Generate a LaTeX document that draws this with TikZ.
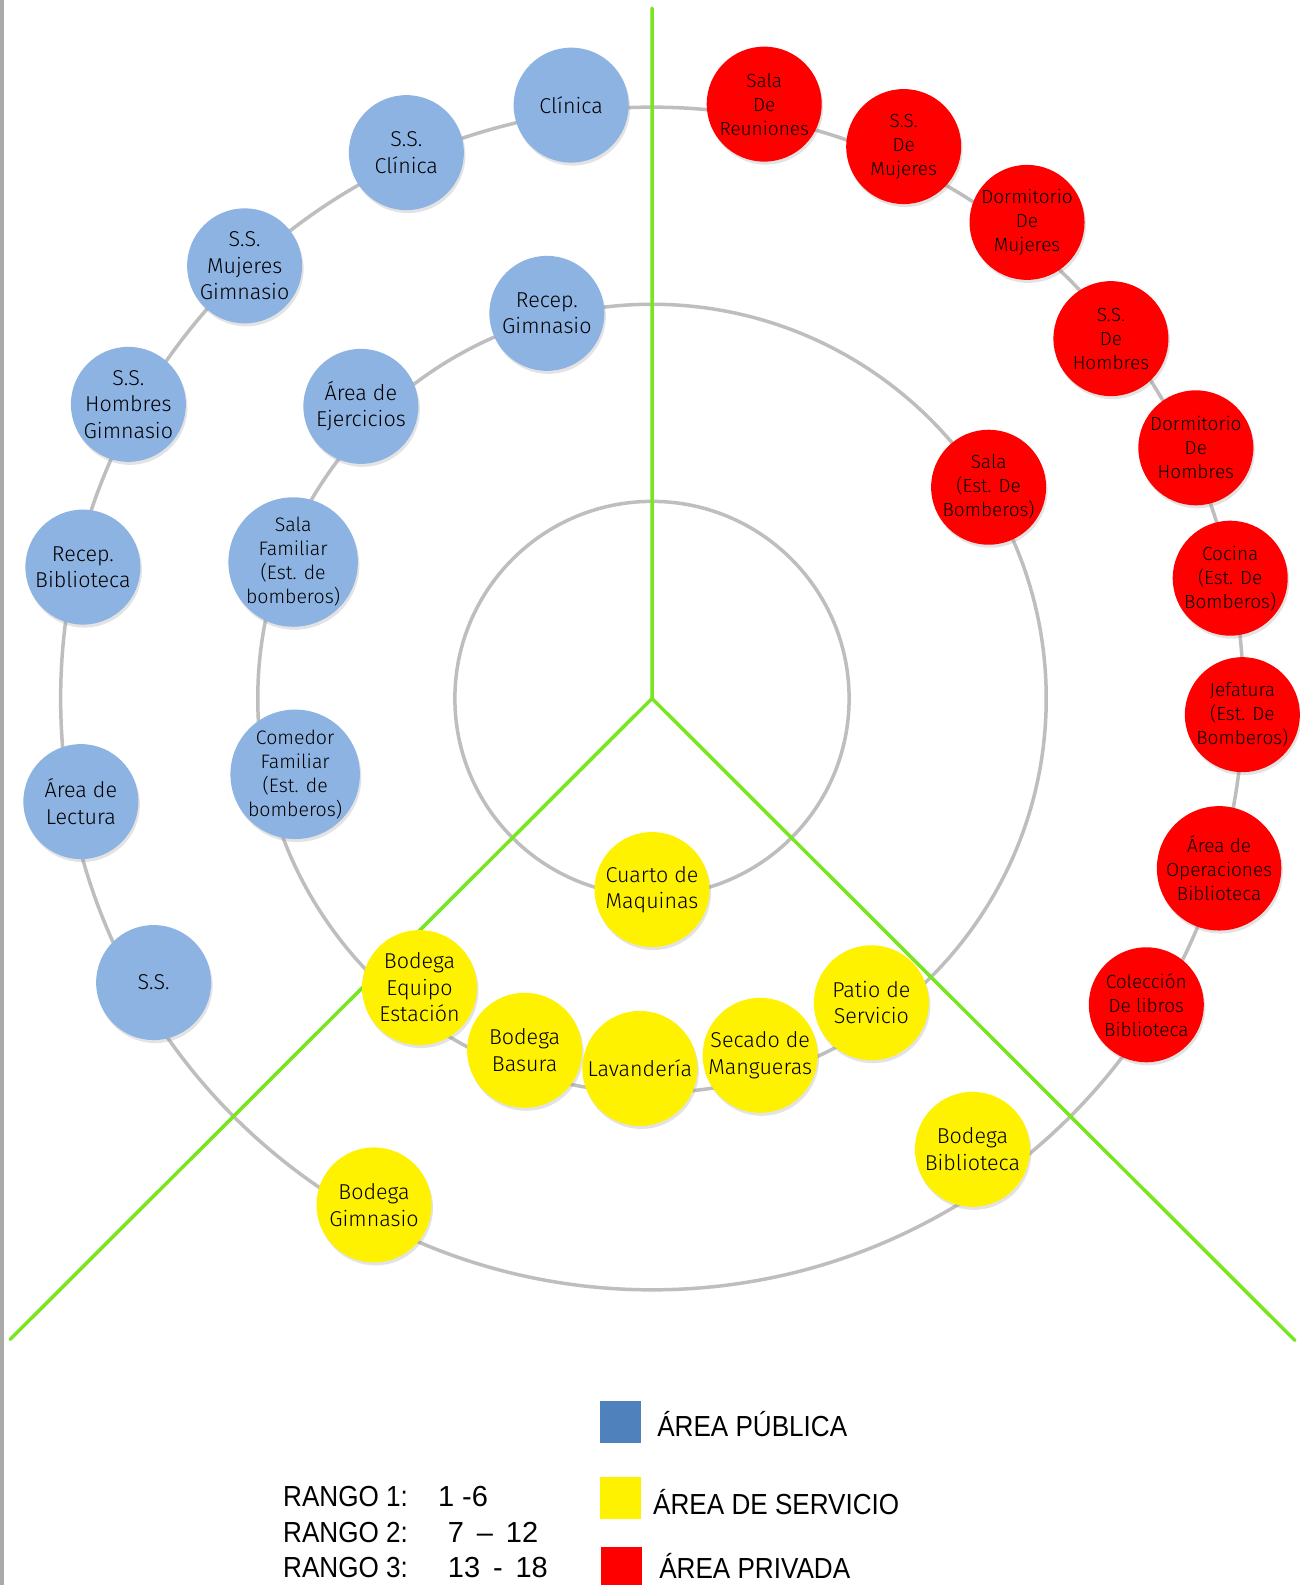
\documentclass[tikz,border=0pt]{standalone}
\usepackage{fontspec}
\usepackage{graphicx}
\setmainfont{Liberation Sans}
\newfontfamily\nodefont{Fira Sans Light}
\usetikzlibrary{shadows}
\definecolor{pubfill}{RGB}{141,179,226}
\definecolor{legblue}{RGB}{79,129,189}
\definecolor{ringgray}{RGB}{190,190,190}
\definecolor{divgreen}{RGB}{120,230,30}
\definecolor{edgegray}{RGB}{170,170,170}
\tikzset{
  room/.style={circle, minimum size=115pt, inner sep=0pt, align=center,
    font=\nodefont\fontsize{21.5}{26.5}\selectfont, text=black,
    drop shadow={opacity=0.22, shadow xshift=1.5pt, shadow yshift=-3pt}},
  pub/.style={room, fill=pubfill},
  svc/.style={room, fill=yellow},
  prv/.style={room, fill=red, font=\nodefont\fontsize{19}{24}\selectfont},
  smalltxt/.style={font=\nodefont\fontsize{19.5}{24}\selectfont},
  ring/.style={draw=ringgray, line width=3.5pt},
  divider/.style={draw=divgreen, line width=3.5pt},
  legsq/.style={minimum width=41pt, minimum height=42pt, inner sep=0pt},
  legtext/.style={anchor=west, inner sep=0pt, font=\fontsize{29}{34}\selectfont},
}
\begin{document}
\begin{tikzpicture}[x=1.0109pt, y=-1.0109pt]
\useasboundingbox (0,0) rectangle (1286,1568);
\fill[white] (0,0) rectangle (1286,1568);
\fill[edgegray] (0,0) rectangle (4,1568);

% rings
\coordinate (c) at (645,691);
\draw[ring] (c) circle[radius=195];
\draw[ring] (c) circle[radius=390];
\draw[ring] (c) circle[radius=585];

% dividers
\coordinate (gtop) at (645,8);
\coordinate (gleft) at (10,1325);
\coordinate (gright) at (1281,1326);
\draw[divider, line cap=round] (gtop) -- (c) -- (gleft);
\draw[divider, line cap=round] (c) -- (gright);

% public area (blue)
\node[pub] (clinica) at (565,104) {Clínica};
\node[pub] (ssclinica) at (402,151) {S.S.\\Clínica};
\node[pub] (ssmujgim) at (242,263) {S.S.\\Mujeres\\Gimnasio};
\node[pub] (sshomgim) at (127,400) {S.S.\\Hombres\\Gimnasio};
\node[pub] (recbib) at (82,561) {Recep.\\Biblioteca};
\node[pub] (lectura) at (80,793) {Área de\\Lectura};
\node[pub] (ss) at (152,972) {S.S.};
\node[pub] (recgim) at (541,310) {Recep.\\Gimnasio};
\node[pub] (ejercicios) at (357,402) {Área de\\Ejercicios};
\node[pub, smalltxt, minimum size=120pt] (salafam) at (290,556) {Sala\\Familiar\\ (Est. de\\bomberos)};
\node[pub, smalltxt, minimum size=120pt] (comfam) at (292,766) {Comedor\\Familiar\\ (Est. de\\bomberos)};

% service area (yellow)
\node[svc] (maquinas) at (645,880) {Cuarto de\\Maquinas};
\node[svc] (bodequipo) at (415,977) {Bodega\\Equipo\\Estación};
\node[svc] (bodbasura) at (519,1039) {Bodega\\Basura};
\node[svc] (lavanderia) at (633,1057) {Lavandería};
\node[svc] (secado) at (752,1044) {Secado de\\Mangueras};
\node[svc] (patio) at (862,992) {Patio de\\Servicio};
\node[svc] (bodgim) at (370,1192) {Bodega\\Gimnasio};
\node[svc] (bodbib) at (962,1137) {Bodega\\Biblioteca};

% private area (red)
\node[prv] (reuniones) at (756,103) {Sala\\De\\Reuniones};
\node[prv] (ssmuj) at (894,145) {S.S.\\De\\Mujeres};
\node[prv] (dormmuj) at (1016,220) {Dormitorio\\De\\Mujeres};
\node[prv] (sshom) at (1099,335) {S.S.\\De\\Hombres};
\node[prv] (dormhom) at (1183,443) {Dormitorio\\De\\Hombres};
\node[prv] (salaest) at (978,482) {Sala\\ (Est. De\\Bomberos)};
\node[prv] (cocina) at (1217,572) {Cocina\\ (Est. De\\Bomberos)};
\node[prv] (jefatura) at (1229,707) {Jefatura\\ (Est. De\\Bomberos)};
\node[prv] (operaciones) at (1206,859) {Área de\\Operaciones\\Biblioteca};
\node[prv] (coleccion) at (1134,994) {Colección\\De libros\\Biblioteca};

% legend
\node[legsq, fill=legblue] (sqpub) at (613.5,1407) {};
\node[legsq, fill=yellow] (sqsvc) at (613.5,1481.5) {};
\node[legsq, fill=red, minimum height=44pt] (sqprv) at (614.5,1552) {};
\node[legtext] (tpub) at (650,1409) {\scalebox{0.9}[1]{ÁREA PÚBLICA}};
\node[legtext] (tsvc) at (646,1486) {\scalebox{0.9}[1]{ÁREA DE SERVICIO}};
\node[legtext] (tprv) at (652,1549) {\scalebox{0.9}[1]{ÁREA PRIVADA}};

\node[legtext] (r1) at (280,1480) {\scalebox{0.9}[1]{\makebox[172pt][l]{RANGO 1:}}1 -6};
\node[legtext] (r2) at (280,1516) {\scalebox{0.9}[1]{\makebox[183pt][l]{RANGO 2:}}7 \,--\, 12};
\node[legtext] (r3) at (280,1551) {\scalebox{0.9}[1]{\makebox[183pt][l]{RANGO 3:}}13 \,-\, 18};
\end{tikzpicture}
\end{document}
